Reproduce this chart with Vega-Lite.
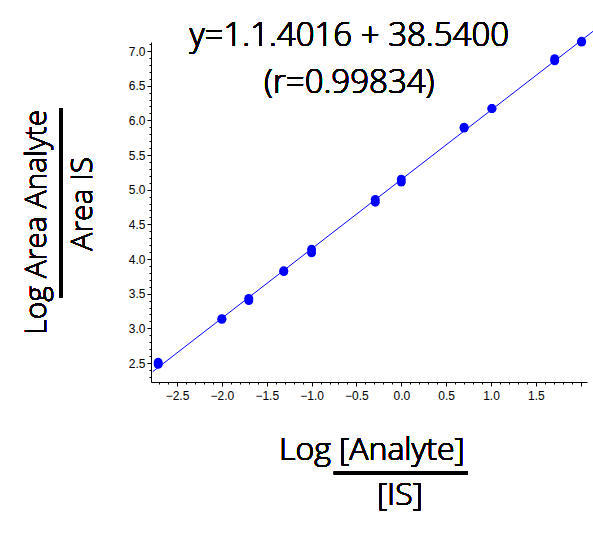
{
  "$schema": "https://vega.github.io/schema/vega-lite/v6.json",
  "autosize": {"type": "none"},
  "padding": {"left": 151, "top": 42, "right": 6, "bottom": 159},
  "width": 436,
  "height": 340,
  "data": {
    "values": [
      {"log_conc": -2.71, "log_area": 2.48},
      {"log_conc": -2.71, "log_area": 2.51},
      {"log_conc": -2.0, "log_area": 3.13},
      {"log_conc": -2.0, "log_area": 3.14},
      {"log_conc": -1.7, "log_area": 3.40},
      {"log_conc": -1.7, "log_area": 3.43},
      {"log_conc": -1.31, "log_area": 3.82},
      {"log_conc": -1.31, "log_area": 3.83},
      {"log_conc": -1.0, "log_area": 4.09},
      {"log_conc": -1.0, "log_area": 4.14},
      {"log_conc": -0.29, "log_area": 4.82},
      {"log_conc": -0.29, "log_area": 4.86},
      {"log_conc": 0.0, "log_area": 5.11},
      {"log_conc": 0.0, "log_area": 5.15},
      {"log_conc": 0.7, "log_area": 5.89},
      {"log_conc": 0.7, "log_area": 5.90},
      {"log_conc": 1.01, "log_area": 6.17},
      {"log_conc": 1.01, "log_area": 6.17},
      {"log_conc": 1.71, "log_area": 6.86},
      {"log_conc": 1.71, "log_area": 6.89},
      {"log_conc": 2.01, "log_area": 7.13},
      {"log_conc": 2.01, "log_area": 7.14}
    ]
  },
  "resolve": {"axis": {"x": "independent", "y": "independent"}},
  "layer": [
    {
      "mark": {"type": "point", "filled": true, "color": "#0000ff", "opacity": 1, "size": 80},
      "encoding": {
        "x": {
          "field": "log_conc",
          "type": "quantitative",
          "scale": {"domain": [-2.79, 2.07], "nice": false, "zero": false},
          "axis": {
            "title": null,
            "grid": false,
            "values": [-2.7, -2.6, -2.5, -2.4, -2.3, -2.2, -2.1, -2.0, -1.9, -1.8, -1.7, -1.6, -1.5, -1.4, -1.3, -1.2, -1.1, -1.0, -0.9, -0.8, -0.7, -0.6, -0.5, -0.4, -0.3, -0.2, -0.1, 0.0, 0.1, 0.2, 0.3, 0.4, 0.5, 0.6, 0.7, 0.8, 0.9, 1.0, 1.1, 1.2, 1.3, 1.4, 1.5, 1.6, 1.7, 1.8, 1.9, 2.0],
            "labelExpr": "abs(datum.value * 2 - round(datum.value * 2)) < 0.001 && datum.value < 1.9 ? format(datum.value, '.1f') : ''",
            "tickSize": {"condition": {"test": "abs(datum.value * 2 - round(datum.value * 2)) < 0.001", "value": 4}, "value": 2},
            "labelPadding": 4
          }
        },
        "y": {
          "field": "log_area",
          "type": "quantitative",
          "scale": {"domain": [2.226, 7.13], "nice": false, "zero": false},
          "axis": {
            "title": null,
            "grid": false,
            "values": [2.3, 2.4, 2.5, 2.6, 2.7, 2.8, 2.9, 3.0, 3.1, 3.2, 3.3, 3.4, 3.5, 3.6, 3.7, 3.8, 3.9, 4.0, 4.1, 4.2, 4.3, 4.4, 4.5, 4.6, 4.7, 4.8, 4.9, 5.0, 5.1, 5.2, 5.3, 5.4, 5.5, 5.6, 5.7, 5.8, 5.9, 6.0, 6.1, 6.2, 6.3, 6.4, 6.5, 6.6, 6.7, 6.8, 6.9, 7.0, 7.1],
            "labelExpr": "abs(datum.value * 2 - round(datum.value * 2)) < 0.001 ? format(datum.value, '.1f') : ''",
            "tickSize": {"condition": {"test": "abs(datum.value * 2 - round(datum.value * 2)) < 0.001", "value": 4}, "value": 2},
            "labelPadding": 2
          }
        }
      }
    },
    {
      "transform": [
        {"regression": "log_area", "on": "log_conc", "extent": [-2.77, 2.14], "as": ["log_conc", "fit"]}
      ],
      "mark": {"type": "line", "color": "#0000ff", "strokeWidth": 1},
      "encoding": {
        "x": {"field": "log_conc", "type": "quantitative", "scale": {"domain": [-2.79, 2.07], "nice": false, "zero": false}, "axis": null},
        "y": {"field": "fit", "type": "quantitative", "scale": {"domain": [2.226, 7.13], "nice": false, "zero": false}, "axis": null}
      }
    },
    {
      "mark": {"type": "text", "text": "y=1.1.4016 + 38.5400", "font": "Open Sans", "fontWeight": 350, "fontSize": 33, "align": "center", "baseline": "alphabetic"},
      "encoding": {
        "x": {"datum": -0.58, "type": "quantitative", "axis": null},
        "y": {"datum": 7.072, "type": "quantitative", "axis": null}
      }
    },
    {
      "mark": {"type": "text", "text": "(r=0.99834)", "font": "Open Sans", "fontWeight": 350, "fontSize": 33, "align": "center", "baseline": "alphabetic"},
      "encoding": {
        "x": {"datum": -0.58, "type": "quantitative", "axis": null},
        "y": {"datum": 6.394, "type": "quantitative", "axis": null}
      }
    },
    {
      "mark": {"type": "text", "text": "Log Area Analyte", "font": "Open Sans", "fontWeight": 350, "fontSize": 30, "angle": 270, "align": "center", "baseline": "alphabetic"},
      "encoding": {
        "x": {"datum": -3.96, "type": "quantitative", "axis": null},
        "y": {"datum": 4.53, "type": "quantitative", "axis": null}
      }
    },
    {
      "mark": {"type": "rule", "color": "black", "strokeWidth": 3},
      "encoding": {
        "x": {"datum": -3.796, "type": "quantitative", "axis": null},
        "y": {"datum": 6.173, "type": "quantitative", "axis": null},
        "y2": {"datum": 3.447}
      }
    },
    {
      "mark": {"type": "text", "text": "Area IS", "font": "Open Sans", "fontWeight": 350, "fontSize": 30, "angle": 270, "align": "center", "baseline": "alphabetic"},
      "encoding": {
        "x": {"datum": -3.45, "type": "quantitative", "axis": null},
        "y": {"datum": 4.796, "type": "quantitative", "axis": null}
      }
    },
    {
      "mark": {"type": "text", "text": "Log [Analyte]", "font": "Open Sans", "fontWeight": 350, "fontSize": 32, "align": "center", "baseline": "alphabetic"},
      "encoding": {
        "x": {"datum": -0.328, "type": "quantitative", "axis": null},
        "y": {"datum": 1.096, "type": "quantitative", "axis": null}
      }
    },
    {
      "mark": {"type": "rule", "color": "black", "strokeWidth": 3},
      "encoding": {
        "x": {"datum": -0.751, "type": "quantitative", "axis": null},
        "x2": {"datum": 0.742},
        "y": {"datum": 0.913, "type": "quantitative", "axis": null}
      }
    },
    {
      "mark": {"type": "text", "text": "[IS]", "font": "Open Sans", "fontWeight": 350, "fontSize": 32, "align": "center", "baseline": "alphabetic"},
      "encoding": {
        "x": {"datum": -0.016, "type": "quantitative", "axis": null},
        "y": {"datum": 0.447, "type": "quantitative", "axis": null}
      }
    }
  ],
  "config": {
    "view": {"stroke": null},
    "axis": {
      "domainColor": "black",
      "tickColor": "black",
      "labelColor": "black",
      "labelFont": "Liberation Sans",
      "labelFontSize": 12,
      "labelOverlap": false,
      "labelFlush": false
    }
  }
}
